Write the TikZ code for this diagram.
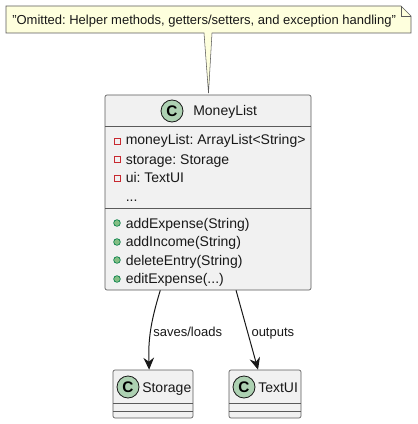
\documentclass[tikz,border=0pt]{standalone}
\usepackage{fontspec}
\setmainfont{Liberation Sans}
\usetikzlibrary{arrows.meta,shapes.geometric}
\definecolor{boxfill}{HTML}{F1F1F1}
\definecolor{boxline}{HTML}{5A5A5A}
\definecolor{notefill}{HTML}{FEFFDD}
\definecolor{spotfill}{HTML}{ADD1B2}
\definecolor{inkdark}{HTML}{181818}
\definecolor{privline}{HTML}{C82930}
\definecolor{publine}{HTML}{038048}
\definecolor{pubfill}{HTML}{84BE84}
\tikzset{
	classbox/.style = {draw = boxline, fill = boxfill, rounded corners = 1.5pt, line width = 0.5pt, inner sep = 0pt},
	divider/.style = {draw = boxline, line width = 0.5pt},
	notebox/.style = {draw = boxline, fill = notefill, line width = 0.4pt, line join = miter},
	spot/.style = {circle, draw = inkdark, fill = spotfill, line width = 0.6pt, minimum size = 16.5pt, inner sep = 0pt, font = \fontsize{11.5pt}{11.5pt}\selectfont\bfseries},
	label/.style = {anchor = base west, inner sep = 0pt, text = inkdark, font = \fontsize{10.5pt}{12pt}\selectfont},
	smalllabel/.style = {label, font = \fontsize{9.75pt}{12pt}\selectfont},
	privicon/.style = {draw = privline, fill = boxfill, line width = 0.6pt, minimum size = 4.6pt, inner sep = 0pt},
	pubicon/.style = {circle, draw = publine, fill = pubfill, line width = 0.5pt, minimum size = 5pt, inner sep = 0pt},
	link/.style = {draw = inkdark, line width = 0.75pt, -{Stealth[length = 9pt, width = 8pt, inset = 3pt]}}
}
\begin{document}
\frenchspacing
\begin{tikzpicture}[x = 0.75pt, y = -0.75pt]
	\useasboundingbox (0,0) rectangle (417,424);

	% note with its tail
	\draw[notebox] (6,6) -- (401,6) -- (411,16) -- (411,33) -- (212,33) -- (208.5,93) -- (204,33) -- (6,33) -- cycle;
	\draw[notebox, fill = none] (401,6) -- (401,16) -- (411,16);
	\node[smalllabel] (notetext) at (12,25) {"Omitted: Helper methods, getters/setters, and exception handling"};

	% class boxes
	\node[classbox, minimum width = 154.5pt, minimum height = 146.25pt] (moneylist) at (208,192.5) {};
	\node[classbox, minimum width = 60pt, minimum height = 36pt] (storage) at (153,394) {};
	\node[classbox, minimum width = 54pt, minimum height = 36pt] (textui) at (265,394) {};

	\draw[divider] (105,126) -- (311,126);
	\draw[divider] (105,208) -- (311,208);
	\draw[divider] (113,403) -- (193,403);
	\draw[divider] (113,411) -- (193,411);
	\draw[divider] (229,403) -- (301,403);
	\draw[divider] (229,411) -- (301,411);

	% headers
	\node[spot] (moneyspot) at (172,111) {C};
	\node[label] (moneyname) at (193,116) {MoneyList};
	\node[spot] (storagespot) at (128,387) {C};
	\node[label] (storagename) at (142,392) {Storage};
	\node[spot] (textuispot) at (244,387) {C};
	\node[label] (textuiname) at (258,392) {TextUI};

	% fields
	\node[privicon] (fieldicona) at (117,141) {};
	\node[label] (fielda) at (125.5,145) {moneyList: ArrayList<String>};
	\node[privicon] (fieldiconb) at (117,159) {};
	\node[label] (fieldb) at (125.5,164) {storage: Storage};
	\node[privicon] (fieldiconc) at (117,178) {};
	\node[label] (fieldc) at (125.5,182) {ui: TextUI};
	\node[label] (fieldd) at (125.5,201) {...};

	% methods
	\node[pubicon] (methodicona) at (117,223) {};
	\node[label] (methoda) at (125.5,228) {addExpense(String)};
	\node[pubicon] (methodiconb) at (117,242) {};
	\node[label] (methodb) at (125.5,246) {addIncome(String)};
	\node[pubicon] (methodiconc) at (117,260) {};
	\node[label] (methodc) at (125.5,265) {deleteEntry(String)};
	\node[pubicon] (methodicond) at (117,279) {};
	\node[label] (methodd) at (125.5,283) {editExpense(...)};

	% associations
	\draw[link] (moneylist.-116.7) to[out = -107, in = 92] node[smalllabel, pos = 0.5, xshift = 1.5pt, yshift = -5pt] {saves/loads} (storage.99.5);
	\draw[link] (moneylist.-74.5) -- node[smalllabel, pos = 0.5, xshift = 3pt, yshift = -5pt] {outputs} (textui.106.3);
\end{tikzpicture}
\end{document}
